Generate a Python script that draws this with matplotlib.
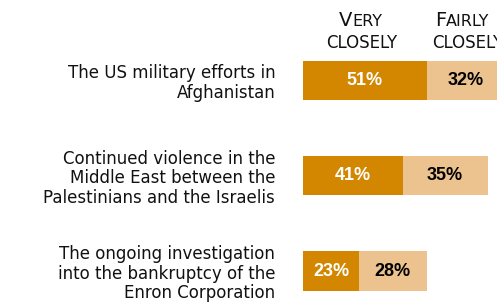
import matplotlib

matplotlib.use("Agg")
import matplotlib.pyplot as plt

# data
topics = [
    "The US military efforts in\nAfghanistan",
    "Continued violence in the\nMiddle East between the\nPalestinians and the Israelis",
    "The ongoing investigation\ninto the bankruptcy of the\nEnron Corporation",
]
very_closely = [51, 41, 23]
fairly_closely = [32, 35, 28]

DARK = "#D38600"
LIGHT = "#ECC28F"

W, H = 497, 305
fig = plt.figure(figsize=(W / 100, H / 100), dpi=100)
ax = fig.add_axes([303 / W, 0, 1 - 303 / W, 1])

pos = list(range(len(topics)))
step = 95.25  # px between bar centres
top0 = 80.5   # px from top of first bar centre
ax.set_ylim((H - top0) / step, -top0 / step)
ax.set_xlim(0, (W - 303) / 2.43)

bar_h = 39 / step
ax.barh(pos, very_closely, height=bar_h, color=DARK, linewidth=0)
ax.barh(pos, fairly_closely, left=very_closely, height=bar_h, color=LIGHT, linewidth=0)

for i in pos:
    v, f = very_closely[i], fairly_closely[i]
    ax.text(v / 2, i, f"{v}%", ha="center", va="center", color="white",
            fontsize=13, fontweight="bold", family="Liberation Sans")
    ax.text(v + f / 2, i, f"{f}%", ha="center", va="center", color="black",
            fontsize=13, fontweight="bold", family="Liberation Sans")

ax.set_yticks(pos)
ax.set_yticklabels(topics, fontsize=12, family="DejaVu Sans", color="#111111",
                   linespacing=1.1, multialignment="right")
ax.tick_params(axis="y", length=0, pad=20)
ax.tick_params(axis="x", bottom=False, labelbottom=False)
for s in ax.spines.values():
    s.set_visible(False)


def small_caps(x, y, first, rest, big=14, small=11.5):
    # centred word with a large initial and smaller capitals
    renderer = fig.canvas.get_renderer()
    a = fig.text(0, y, first, fontsize=big, color="#111111", va="baseline")
    b = fig.text(0, y, rest, fontsize=small, color="#111111", va="baseline")
    wa = a.get_window_extent(renderer).width
    wb = b.get_window_extent(renderer).width
    x0 = x * W - (wa + wb) / 2
    a.set_x(x0 / W)
    b.set_x((x0 + wa) / W)


small_caps(361 / W, 1 - 26 / H, "V", "ERY")
fig.text(362 / W, 1 - 48 / H, "CLOSELY", fontsize=12, color="#111111",
         ha="center", va="baseline")
small_caps(462 / W, 1 - 26 / H, "F", "AIRLY")
fig.text(468 / W, 1 - 48 / H, "CLOSELY", fontsize=12, color="#111111",
         ha="center", va="baseline")

fig.savefig("out.png", dpi=100)
